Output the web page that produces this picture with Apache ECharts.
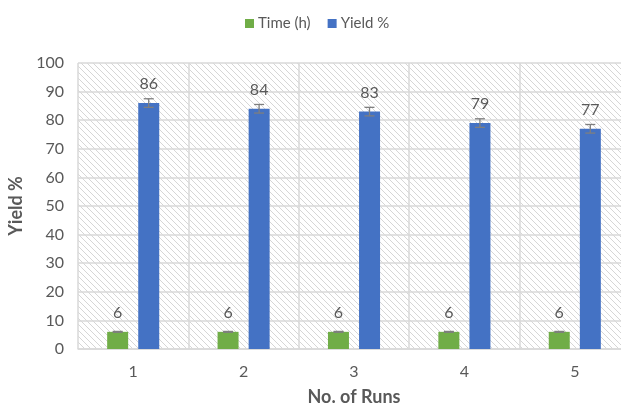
<!DOCTYPE html>
<html>
<head>
<meta charset="utf-8">
<script src="https://cdn.jsdelivr.net/npm/echarts@6/dist/echarts.min.js"></script>
<style>html,body{margin:0;padding:0;background:#fff;}#c{width:621px;height:407px;}</style>
</head>
<body>
<div id="c"></div>
<script>
var categories = ['1', '2', '3', '4', '5'];
var timeValues = [6, 6, 6, 6, 6];
var yieldValues = [86, 84, 83, 79, 77];
var timeErrors = [0.15, 0.15, 0.15, 0.15, 0.15];
var yieldErrors = [1.5, 1.5, 1.5, 1.5, 1.5];
var yTicks = [0, 10, 20, 30, 40, 50, 60, 70, 80, 90, 100];

var FONT = 'Lato';
var GREY = '#595959';

// hatch pattern tile
var tile = document.createElement('canvas');
tile.width = 6; tile.height = 6;
var tc = tile.getContext('2d');
tc.fillStyle = '#ffffff';
tc.fillRect(0, 0, 6, 6);
tc.strokeStyle = '#d6d6d6';
tc.lineWidth = 1;
tc.beginPath();
tc.moveTo(-1, -1); tc.lineTo(7, 7);
tc.moveTo(-7, -1); tc.lineTo(1, 7);
tc.moveTo(5, -1); tc.lineTo(13, 7);
tc.stroke();

function errData(vals, errs) {
  return vals.map(function (v, i) { return [i, v - errs[i], v + errs[i]]; });
}

function errRender(offset) {
  return function (params, api) {
    var i = api.value(0);
    var lo = api.coord([i, api.value(1)]);
    var hi = api.coord([i, api.value(2)]);
    var x = lo[0] + offset;
    var hw = 5;
    var style = { stroke: '#7f7f7f', lineWidth: 1.3, fill: null };
    return {
      type: 'group',
      children: [
        { type: 'line', shape: { x1: x, y1: hi[1], x2: x, y2: lo[1] }, style: style },
        { type: 'line', shape: { x1: x - hw, y1: hi[1], x2: x + hw, y2: hi[1] }, style: style },
        { type: 'line', shape: { x1: x - hw, y1: lo[1], x2: x + hw, y2: lo[1] }, style: style }
      ]
    };
  };
}

var chart = echarts.init(document.getElementById('c'), null, { renderer: 'canvas' });
chart.setOption({
  animation: false,
  textStyle: { fontFamily: FONT },
  legend: {
    data: ['Time (h)', 'Yield %'],
    top: 11,
    left: 240,
    itemWidth: 9,
    itemHeight: 9,
    itemGap: 17,
    icon: 'rect',
    textStyle: { fontFamily: FONT, fontSize: 15, color: GREY, padding: [0, 0, 0, -1] }
  },
  grid: {
    left: 78, right: -9, top: 63, bottom: 58,
    containLabel: false,
    outerBoundsMode: 'none',
    show: true,
    borderWidth: 0,
    backgroundColor: { image: tile, repeat: 'repeat' }
  },
  xAxis: {
    type: 'category',
    data: categories,
    name: 'No. of Runs',
    nameLocation: 'middle',
    nameGap: 39,
    nameTextStyle: { fontFamily: FONT, fontSize: 18, fontWeight: 'bold', color: GREY },
    axisLine: { show: true, lineStyle: { color: '#d9d9d9', width: 1.5 } },
    axisTick: { show: false },
    axisLabel: { fontFamily: FONT, fontSize: 16, color: GREY, margin: 15 },
    splitLine: { show: true, lineStyle: { color: '#d9d9d9', width: 1.5 } }
  },
  yAxis: {
    type: 'value',
    min: yTicks[0],
    max: yTicks[yTicks.length - 1],
    interval: 10,
    name: 'Yield %',
    nameLocation: 'middle',
    nameGap: 49,
    nameTextStyle: { fontFamily: FONT, fontSize: 18, fontWeight: 'bold', color: GREY },
    axisLine: { show: false },
    axisTick: { show: false },
    axisLabel: { fontFamily: FONT, fontSize: 16, color: GREY, margin: 14 },
    splitLine: { show: true, lineStyle: { color: '#d9d9d9', width: 1.5 } }
  },
  series: [
    {
      name: 'Time (h)',
      type: 'bar',
      data: timeValues,
      barWidth: 21,
      barGap: '48%',
      itemStyle: { color: '#70AD47' },
      label: { show: true, position: 'top', distance: 11, fontFamily: FONT, fontSize: 16, color: GREY }
    },
    {
      name: 'Yield %',
      type: 'bar',
      data: yieldValues,
      barWidth: 21,
      barGap: '48%',
      itemStyle: { color: '#4472C4' },
      label: { show: true, position: 'top', distance: 11, fontFamily: FONT, fontSize: 16, color: GREY }
    },
    {
      type: 'custom',
      renderItem: errRender(-15.5),
      data: errData(timeValues, timeErrors),
      encode: { x: 0, y: [1, 2] },
      z: 5,
      silent: true
    },
    {
      type: 'custom',
      renderItem: errRender(15.5),
      data: errData(yieldValues, yieldErrors),
      encode: { x: 0, y: [1, 2] },
      z: 5,
      silent: true
    }
  ]
});
</script>
</body>
</html>
